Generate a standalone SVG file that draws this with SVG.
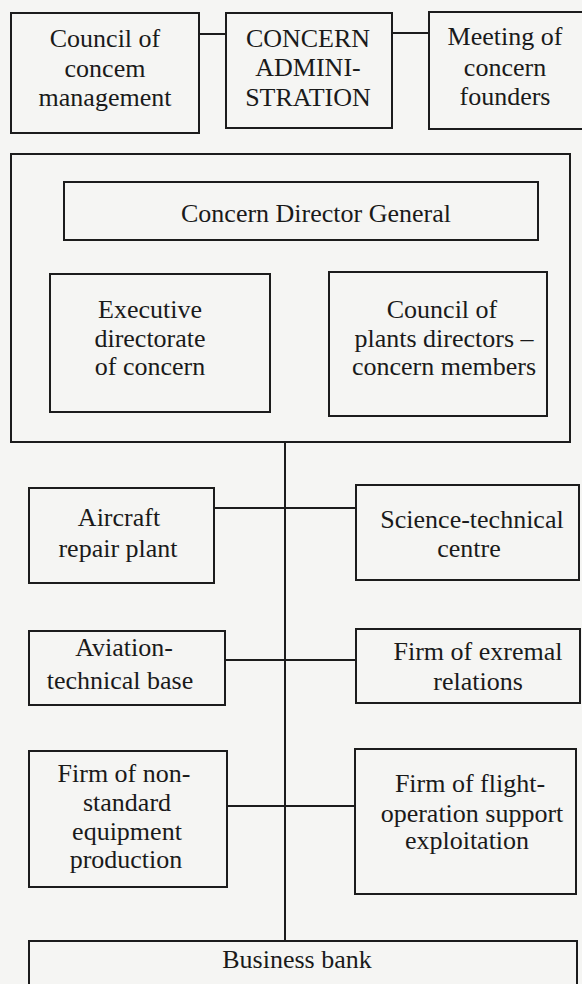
<svg xmlns="http://www.w3.org/2000/svg" width="582" height="984" viewBox="0 0 582 984">
  <style>
    .box { fill: none; stroke: #1c1c1c; stroke-width: 2; }
    .link { fill: none; stroke: #1c1c1c; stroke-width: 2; }
    text { font-family: "Liberation Serif", "Times New Roman", serif; font-size: 26px; fill: #1a1a1a; text-anchor: middle; }
  </style>
  <rect x="0" y="0" width="582" height="984" fill="#f5f5f3"/>

  <!-- connectors -->
  <g id="connectors">
    <line class="link" x1="199" y1="34" x2="226" y2="34"/>
    <line class="link" x1="392" y1="33" x2="429" y2="33"/>
    <line class="link" x1="285" y1="442" x2="285" y2="941"/>
    <line class="link" x1="214" y1="508" x2="356" y2="508"/>
    <line class="link" x1="225" y1="660" x2="356" y2="660"/>
    <line class="link" x1="227" y1="806" x2="355" y2="806"/>
  </g>

  <g id="council-management">
    <rect class="box" x="11" y="13" width="188" height="120"/>
    <text x="105" y="47">Council of</text>
    <text x="105" y="77">concem</text>
    <text x="105" y="106">management</text>
  </g>

  <g id="concern-administration">
    <rect class="box" x="226" y="13" width="166" height="115"/>
    <text x="308" y="47">CONCERN</text>
    <text x="308" y="76">ADMINI-</text>
    <text x="308" y="106">STRATION</text>
  </g>

  <g id="founders-meeting">
    <rect class="box" x="429" y="12" width="170" height="117"/>
    <text x="505" y="45">Meeting of</text>
    <text x="505" y="76">concern</text>
    <text x="505" y="105">founders</text>
  </g>

  <g id="concern-body">
    <rect class="box" x="11" y="154" width="559" height="288"/>
  </g>

  <g id="director-general">
    <rect class="box" x="64" y="182" width="474" height="58"/>
    <text x="316" y="222">Concern Director General</text>
  </g>

  <g id="executive-directorate">
    <rect class="box" x="50" y="274" width="220" height="138"/>
    <text x="150" y="318">Executive</text>
    <text x="150" y="347">directorate</text>
    <text x="150" y="375">of concern</text>
  </g>

  <g id="plants-directors">
    <rect class="box" x="329" y="272" width="218" height="144"/>
    <text x="442" y="318">Council of</text>
    <text x="444" y="347">plants directors –</text>
    <text x="444" y="375">concern members</text>
  </g>

  <g id="repair-plant">
    <rect class="box" x="29" y="488" width="185" height="95"/>
    <text x="119" y="526">Aircraft</text>
    <text x="118" y="557">repair plant</text>
  </g>

  <g id="science-centre">
    <rect class="box" x="356" y="485" width="223" height="95"/>
    <text x="472" y="528">Science-technical</text>
    <text x="469" y="557">centre</text>
  </g>

  <g id="technical-base">
    <rect class="box" x="29" y="631" width="196" height="74"/>
    <text x="124" y="656">Aviation-</text>
    <text x="120" y="689">technical base</text>
  </g>

  <g id="external-relations">
    <rect class="box" x="356" y="629" width="224" height="74"/>
    <text x="478" y="660">Firm of exremal</text>
    <text x="478" y="690">relations</text>
  </g>

  <g id="equipment-production">
    <rect class="box" x="29" y="751" width="198" height="136"/>
    <text x="124" y="782">Firm of non-</text>
    <text x="127" y="811">standard</text>
    <text x="127" y="840">equipment</text>
    <text x="126" y="868">production</text>
  </g>

  <g id="flight-support">
    <rect class="box" x="355" y="749" width="221" height="145"/>
    <text x="470" y="792">Firm of flight-</text>
    <text x="472" y="822">operation support</text>
    <text x="467" y="849">exploitation</text>
  </g>

  <g id="business-bank">
    <rect class="box" x="29" y="941" width="548" height="60"/>
    <text x="297" y="968">Business bank</text>
  </g>
</svg>
